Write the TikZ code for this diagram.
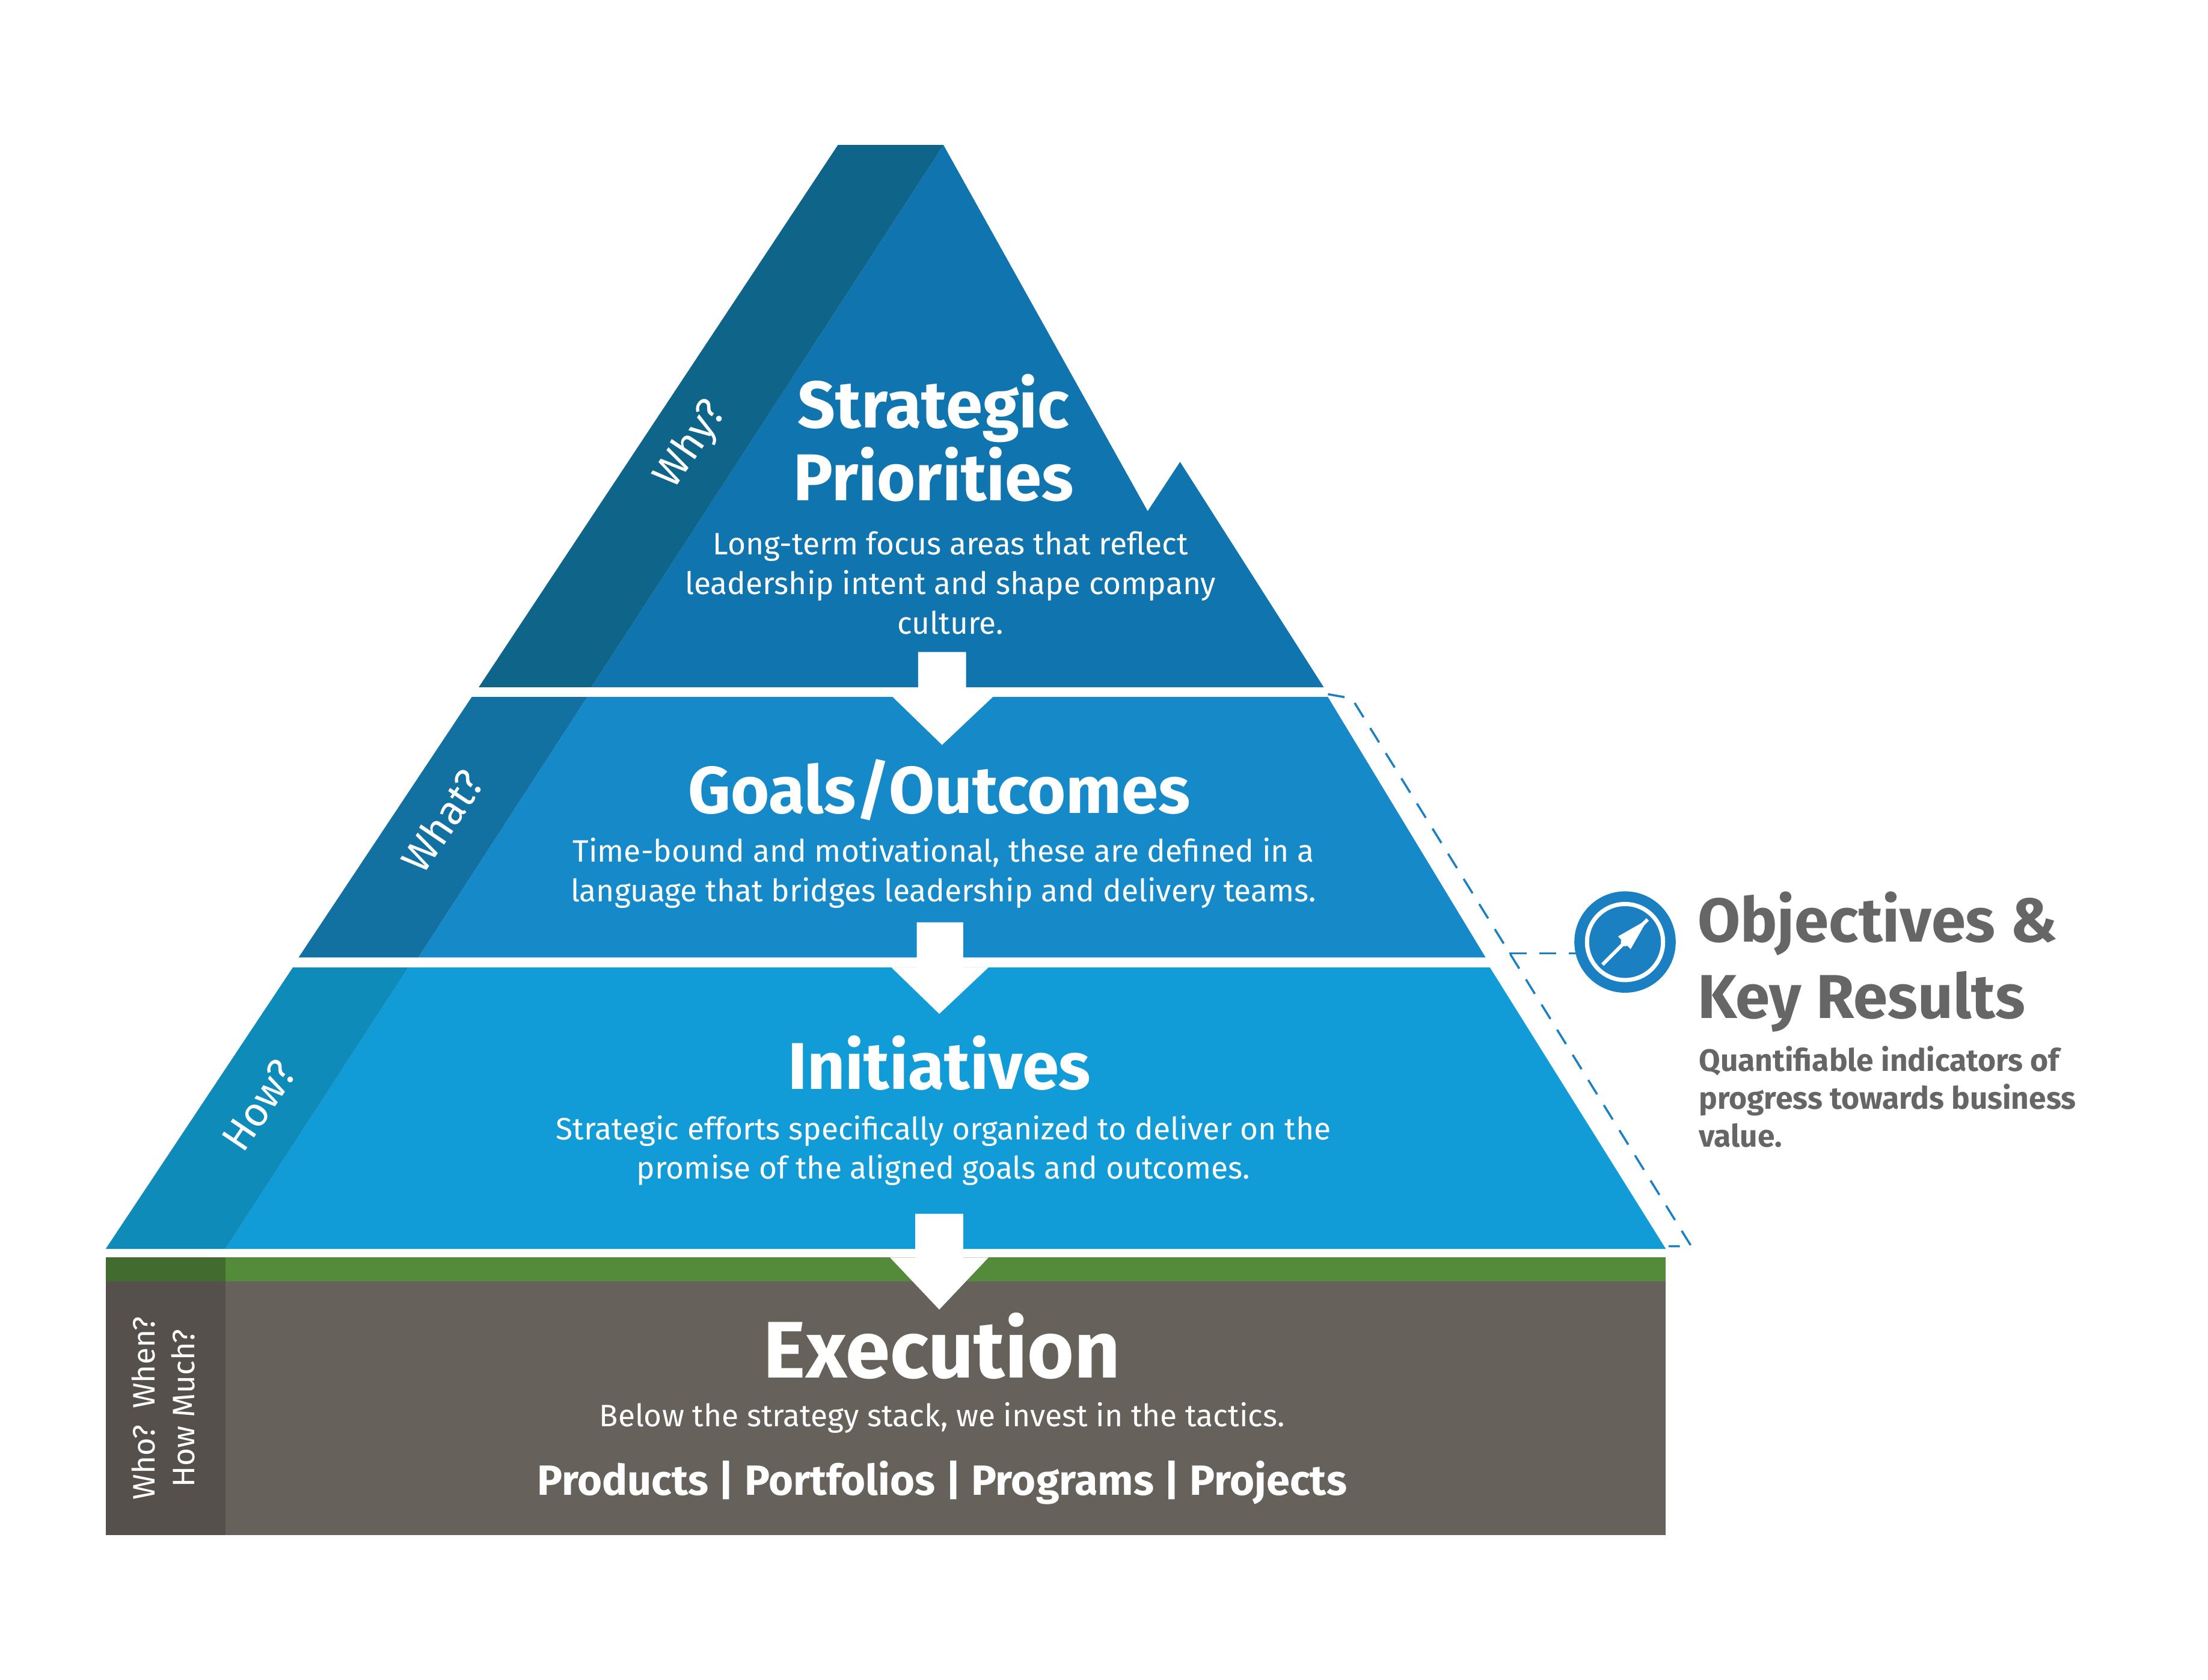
\documentclass[tikz,border=0pt]{standalone}
\usepackage{fontspec}
\setmainfont{Fira Sans}
\definecolor{topm}{HTML}{1075AE}
\definecolor{tops}{HTML}{0F6489}
\definecolor{goam}{HTML}{168AC9}
\definecolor{goas}{HTML}{1371A2}
\definecolor{inim}{HTML}{119CD7}
\definecolor{inis}{HTML}{0F8BB9}
\definecolor{exg}{HTML}{67615C}
\definecolor{exs}{HTML}{56504C}
\definecolor{grn}{HTML}{548B3B}
\definecolor{dgrn}{HTML}{426B30}
\definecolor{okr}{HTML}{666666}
\definecolor{dashc}{HTML}{1A80C2}
\tikzset{
 title/.style={text=white,font=\fontsize{47}{52}\selectfont\bfseries,align=center},
 body/.style={text=white,font=\fontsize{22}{28}\selectfont,align=center},
 side/.style={text=white,font=\fontsize{29}{32}\selectfont,rotate=56,inner sep=0pt},
 arr/.style={fill=white},
 dline/.style={draw=dashc,line width=1.5pt,dash pattern=on 12pt off 9pt},
}
\begin{document}
\begin{tikzpicture}[x=1pt,y=-1pt]
\useasboundingbox (0,0) rectangle (1568,1193);
\fill[topm] (670,103) -- (815,363) -- (838,328) -- (940,488) -- (420,488) -- cycle;
\fill[tops] (595,103) -- (670,103) -- (420,488) -- (340,488) -- cycle;
\fill[goam] (417,495) -- (943,495) -- (1055,680) -- (297,680) -- cycle;
\fill[goas] (335,495) -- (417,495) -- (297,680) -- (212,680) -- cycle;
\fill[inim] (290,687) -- (1058,687) -- (1183,887) -- (160,887) -- cycle;
\fill[inis] (208,687) -- (290,687) -- (160,887) -- (75,887) -- cycle;
\fill[exg] (160,893) rectangle (1183,1090);
\fill[exs] (75,893) rectangle (160,1090);
\fill[grn] (160,893) rectangle (1183,910);
\fill[dgrn] (75,893) rectangle (160,910);
\fill[arr] (652,463) -- (686,463) -- (686,495) -- (705,495) -- (669,529) -- (634,495) -- (652,495) -- cycle;
\fill[arr] (651,655) -- (684,655) -- (684,687) -- (702,687) -- (667,720) -- (633,687) -- (651,687) -- cycle;
\fill[arr] (650,862) -- (684,862) -- (684,893) -- (702,893) -- (667,930) -- (632,893) -- (650,893) -- cycle;
\node[title] (t1) at (663,311) {Strategic\\Priorities};
\node[body] (b1) at (675,414) {Long-term focus areas that reflect\\leadership intent and shape company\\culture.};
\node[title] (t2) at (667,561) {Goals/Outcomes};
\node[body] (b2) at (670,620) {Time-bound and motivational, these are defined in a\\language that bridges leadership and delivery teams.};
\node[title] (t3) at (667,755) {Initiatives};
\node[body] (b3) at (670,817) {Strategic efforts specifically organized to deliver on the\\promise of the aligned goals and outcomes.};
\node[text=white,font=\fontsize{57}{60}\selectfont\bfseries] (t4) at (669,956) {Execution};
\node[body] (b4) at (669,1007) {Below the strategy stack, we invest in the tactics.};
\node[text=white,font=\fontsize{30}{32}\selectfont\bfseries] (p4) at (669,1053) {Products | Portfolios | Programs | Projects};
\node[side] (s1) at (491,316) {Why?};
\node[side] (s2) at (314,583) {What?};
\node[side] (s3) at (184,785) {How?};
\node[text=white,font=\fontsize{22}{28}\selectfont,rotate=90,align=center] (s4) at (116,1000) {Who?\ \ When?\\How Much?};
\coordinate (d1) at (943,493);
\coordinate (d2) at (960,496);
\coordinate (d3) at (1201,885);
\coordinate (d4) at (1185,885);
\draw[dline] (d1) -- (d2) -- (d3) -- (d4);
\node[circle,fill=dashc,minimum size=72pt,inner sep=0] (ic) at (1154,669) {};
\draw[white,line width=3pt] (ic) circle (27pt);
\coordinate (dl) at (1072,677);
\coordinate (dr) at (1119,677);
\draw[dline] (dl) -- (dr);
\fill[white] (1170,653) -- (1158,674) -- (1149,665) -- cycle;
\draw[white,line width=2.5pt] (1170,653) -- (1138,685);
\fill[white] (1154,669) circle (3pt);
\node[anchor=west,text=okr,font=\fontsize{44}{54}\selectfont\bfseries,align=left] (o1) at (1202,683) {Objectives \&\\Key Results};
\node[anchor=west,text=okr,font=\fontsize{22}{27}\selectfont\bfseries,align=left] (o2) at (1203,779) {Quantifiable indicators of\\progress towards business\\value.};
\end{tikzpicture}
\end{document}
